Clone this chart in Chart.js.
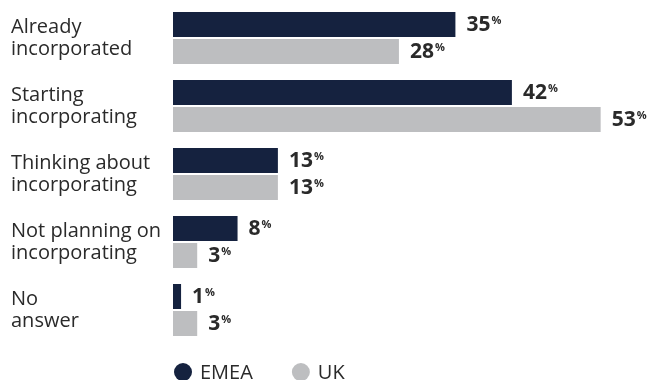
<!DOCTYPE html>
<html>
<head>
<meta charset="utf-8">
<script src="https://cdn.jsdelivr.net/npm/chart.js@4"></script>
<style>
  html, body { margin: 0; padding: 0; background: #fff; }
  #wrap { width: 651px; height: 380px; position: relative; }
</style>
</head>
<body>
<div id="wrap"><canvas id="chart"></canvas></div>
<script>
"use strict";

const categories = [
  ['Already', 'incorporated'],
  ['Starting', 'incorporating'],
  ['Thinking about', 'incorporating'],
  ['Not planning on', 'incorporating'],
  ['No', 'answer'],
];
const emea = [35, 42, 13, 8, 1];
const uk = [28, 53, 13, 3, 3];
const seriesNames = ['EMEA', 'UK'];
const seriesColors = ['#15223f', '#bdbec0'];

const FONT = "'Open Sans', sans-serif";
const TEXT = '#2a2a2a';

// value labels: bold number with a small superscript %
const valueLabels = {
  id: 'valueLabels',
  afterDatasetsDraw(chart) {
    const ctx = chart.ctx;
    ctx.save();
    ctx.fillStyle = TEXT;
    ctx.textBaseline = 'middle';
    ctx.textAlign = 'left';
    chart.data.datasets.forEach((ds, i) => {
      chart.getDatasetMeta(i).data.forEach((bar, j) => {
        const txt = String(ds.data[j]);
        const x = bar.x + 11;
        ctx.font = 'bold 21px ' + FONT;
        ctx.fillText(txt, x, bar.y + 1);
        const w = ctx.measureText(txt).width;
        ctx.font = 'bold 11px ' + FONT;
        ctx.fillText('%', x + w + 1, bar.y - 4);
      });
    });
    ctx.restore();
  }
};

// legend drawn under the bars, starting at the bars' left edge
const bottomLegend = {
  id: 'bottomLegend',
  afterDraw(chart) {
    const ctx = chart.ctx;
    const y = chart.height - 8;
    let x = chart.chartArea.left + 1;
    ctx.save();
    ctx.font = '20px ' + FONT;
    ctx.textBaseline = 'middle';
    chart.data.datasets.forEach((ds) => {
      ctx.fillStyle = ds.backgroundColor;
      ctx.beginPath();
      ctx.arc(x + 9, y, 9, 0, Math.PI * 2);
      ctx.fill();
      ctx.fillStyle = TEXT;
      ctx.fillText(ds.label, x + 26, y + 1);
      x += 26 + ctx.measureText(ds.label).width + 39;
    });
    ctx.restore();
  }
};

new Chart(document.getElementById('chart'), {
  type: 'bar',
  data: {
    labels: categories,
    datasets: [
      { label: seriesNames[0], data: emea, backgroundColor: seriesColors[0] },
      { label: seriesNames[1], data: uk, backgroundColor: seriesColors[1] },
    ],
  },
  options: {
    indexAxis: 'y',
    responsive: true,
    maintainAspectRatio: false,
    animation: false,
    categoryPercentage: 0.794,
    barPercentage: 0.926,
    layout: { padding: { left: 11, right: 10, top: 4, bottom: 36 } },
    plugins: {
      legend: { display: false },
      tooltip: { enabled: false },
    },
    scales: {
      x: {
        display: false,
        min: 0,
        max: 58,
      },
      y: {
        grid: { display: false, drawTicks: false },
        border: { display: false },
        ticks: {
          crossAlign: 'far',
          padding: 0,
          color: TEXT,
          font: { family: FONT, size: 20, lineHeight: 1.1 },
        },
        afterFit(scale) {
          scale.width = 162;
          scale.paddingTop = 0;
          scale.paddingBottom = 0;
        },
      },
    },
  },
  plugins: [valueLabels, bottomLegend],
});
</script>
</body>
</html>
